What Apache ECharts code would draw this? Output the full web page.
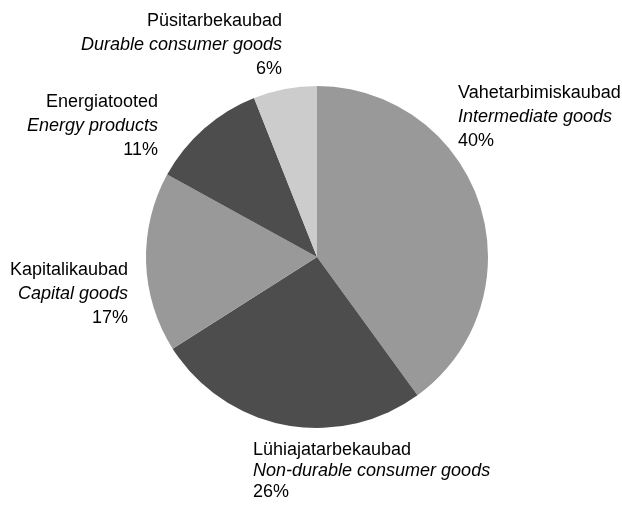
<!DOCTYPE html>
<html>
<head>
<meta charset="utf-8">
<script src="https://cdn.jsdelivr.net/npm/echarts@6/dist/echarts.min.js"></script>
<style>
    html, body { margin: 0; padding: 0; background: #fff; }
    #chartBox { width: 622px; height: 505px; }
</style>
</head>
<body>
<div id="chartBox"></div>
<script>
// data
const categories = ['Vahetarbimiskaubad', 'Lühiajatarbekaubad', 'Kapitalikaubad', 'Energiatooted', 'Püsitarbekaubad'];
const englishNames = ['Intermediate goods', 'Non-durable consumer goods', 'Capital goods', 'Energy products', 'Durable consumer goods'];
const shares = [40, 26, 17, 11, 6];

// label anchors (x, vertical middle, alignment, line height)
const labelAnchors = [
    { x: 458, y: 117, align: 'left', lh: 24 },
    { x: 253, y: 471, align: 'left', lh: 21 },
    { x: 128, y: 294, align: 'right', lh: 24 },
    { x: 158, y: 126, align: 'right', lh: 24 },
    { x: 282, y: 45, align: 'right', lh: 24 }
];
const sliceColors = ['#999999', '#4d4d4d', '#999999', '#4d4d4d', '#cccccc'];

const chart = echarts.init(document.getElementById('chartBox'));

const option = {
    animation: false,
    color: sliceColors,
    series: [
        {
            type: 'pie',
            center: [317, 257],
            radius: 171,
            startAngle: 90,
            clockwise: true,
            avoidLabelOverlap: false,
            emphasis: { disabled: true },
            data: categories.map((name, i) => ({
                name: name,
                value: shares[i],
                label: {
                    rich: {
                        n: { fontSize: 18, fontFamily: 'Liberation Sans', color: '#000', lineHeight: labelAnchors[i].lh },
                        e: { fontSize: 18, fontFamily: 'Liberation Sans', fontStyle: 'italic', color: '#000', lineHeight: labelAnchors[i].lh },
                        p: { fontSize: 18, fontFamily: 'Liberation Sans', color: '#000', lineHeight: labelAnchors[i].lh }
                    }
                }
            })),
            label: {
                show: true,
                position: 'outside',
                formatter: p => '{n|' + p.name + '}\n{e|' + englishNames[p.dataIndex] + '}\n{p|' + Math.round(p.percent) + '%}'
            },
            labelLine: { show: false },
            labelLayout: p => {
                const a = labelAnchors[p.dataIndex];
                return { x: a.x, y: a.y, align: a.align, verticalAlign: 'middle' };
            }
        }
    ]
};
chart.setOption(option);
</script>
</body>
</html>
